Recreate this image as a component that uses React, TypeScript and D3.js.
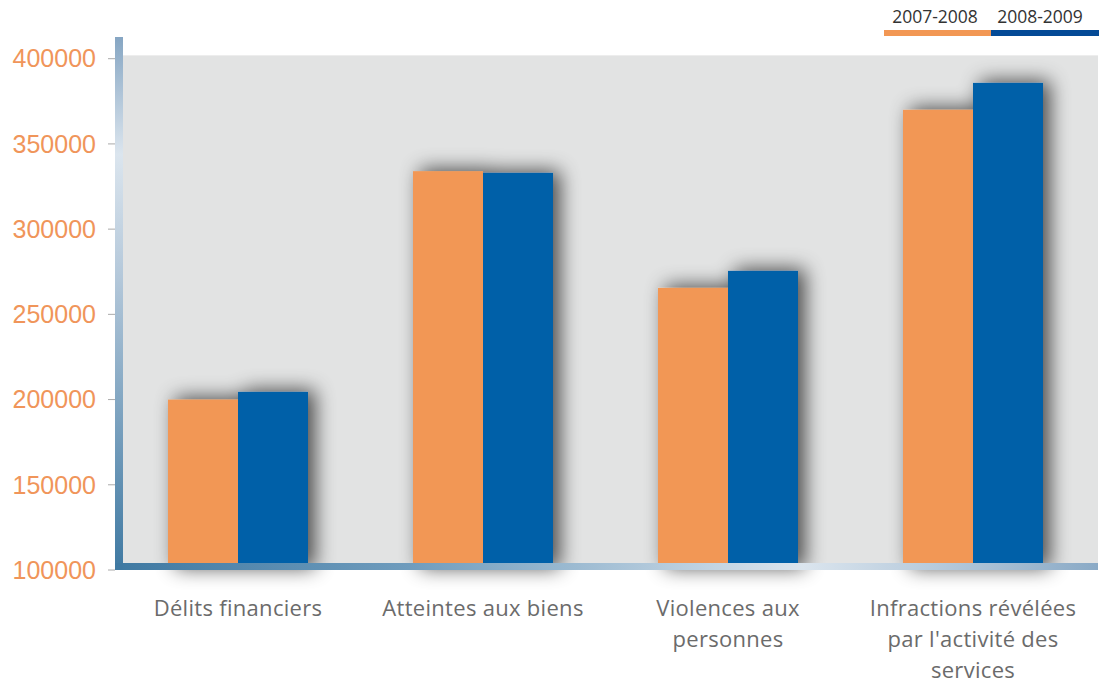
import React from "react";
import * as d3 from "d3";

const categories = [
  "Délits financiers",
  "Atteintes aux biens",
  "Violences aux\npersonnes",
  "Infractions révélées\npar l'activité des\nservices",
];
const series2007 = [200000, 334000, 265500, 370000];
const series2008 = [204500, 333000, 275500, 385800];
const seriesNames = ["2007-2008", "2008-2009"];
const yTicks = [100000, 150000, 200000, 250000, 300000, 350000, 400000];

const W = 1101;
const H = 683;

export default function App() {
  const y = d3.scaleLinear().domain([100000, 400000]).range([570, 58.7]);
  const x = d3.scaleBand().domain(categories).range([115.5, 1095.5]).paddingInner(0.4286).paddingOuter(0.2143);
  const orange = "#f29754";
  const blue = "#0060a8";
  const tickColor = "#f0955a";
  const bw = x.bandwidth() / 2;

  return (
    <svg width={W} height={H} style={{ position: "absolute", left: 0, top: 0 }}>
      <defs>
        <linearGradient id="gl" x1="0" y1="0" x2="0" y2="1">
          <stop offset="0" stopColor="#86a6c3" />
          <stop offset="0.22" stopColor="#dbe5ee" />
          <stop offset="0.45" stopColor="#b4c8da" />
          <stop offset="1" stopColor="#3f79a2" />
        </linearGradient>
        <linearGradient id="gb" x1="0" y1="0" x2="1" y2="0">
          <stop offset="0" stopColor="#3f79a2" />
          <stop offset="0.3" stopColor="#6f9cbd" />
          <stop offset="0.7" stopColor="#dbe5ee" />
          <stop offset="1" stopColor="#8aaac6" />
        </linearGradient>
        <filter id="sh" x="-30%" y="-20%" width="160%" height="140%">
          <feGaussianBlur in="SourceAlpha" stdDeviation="10" />
          <feOffset dx="7" dy="-2" result="b" />
          <feComponentTransfer>
            <feFuncA type="linear" slope="0.68" />
          </feComponentTransfer>
          <feMerge>
            <feMergeNode />
            <feMergeNode in="SourceGraphic" />
          </feMerge>
        </filter>
      </defs>
      <rect x={0} y={0} width={W} height={H} fill="#ffffff" />
      {/* plot background */}
      <rect x={123} y={55} width={975} height={510} fill="#e2e3e3" />
      <line x1={123} x2={1098} y1={55.5} y2={55.5} stroke="#ededed" strokeWidth={1} />

      {/* bars */}
      {categories.map((c, i) => {
        const x0 = x(c)!;
        return (
          <g key={c} filter="url(#sh)">
            <rect x={x0} y={y(series2007[i])} width={bw} height={y(100000) - y(series2007[i])} fill={orange} />
            <rect x={x0 + bw} y={y(series2008[i])} width={bw} height={y(100000) - y(series2008[i])} fill={blue} />
          </g>
        );
      })}

      {/* axes bars */}
      <rect x={115} y={37} width={8} height={533} fill="url(#gl)" />
      <rect x={115} y={563} width={983} height={7} fill="url(#gb)" />
      <rect x={115} y={563} width={8} height={7} fill="#3f79a2" />

      {/* y ticks */}
      {yTicks.map((t) => (
        <g key={t}>
          <line x1={108} x2={115} y1={y(t)} y2={y(t)} stroke="#aaaaaa" strokeWidth={1} />
          <text
            x={96}
            y={y(t)}
            dy="0.35em"
            textAnchor="end"
            fill={tickColor}
            fontFamily="Liberation Sans, Arial, sans-serif"
            fontSize={25}
          >
            {d3.format("d")(t)}
          </text>
        </g>
      ))}

      {/* category labels */}
      {categories.map((c) => {
        const cx = x(c)! + x.bandwidth() / 2;
        return (
          <text key={c} textAnchor="middle" fill="#6b6b6b" fontFamily="Open Sans, sans-serif" fontSize={22} letterSpacing={0.3}>
            {c.split("\n").map((line, j) => (
              <tspan key={j} x={cx} y={616 + j * 31}>
                {line}
              </tspan>
            ))}
          </text>
        );
      })}

      {/* legend */}
      <text x={935} y={23} textAnchor="middle" fill="#333333" fontFamily="Open Sans, sans-serif" fontSize={17.5}>
        {seriesNames[0]}
      </text>
      <text x={1040} y={23} textAnchor="middle" fill="#333333" fontFamily="Open Sans, sans-serif" fontSize={17.5}>
        {seriesNames[1]}
      </text>
      <rect x={884} y={30} width={107} height={6} fill={orange} />
      <rect x={991} y={30} width={108} height={6} fill="#044a96" />
    </svg>
  );
}
